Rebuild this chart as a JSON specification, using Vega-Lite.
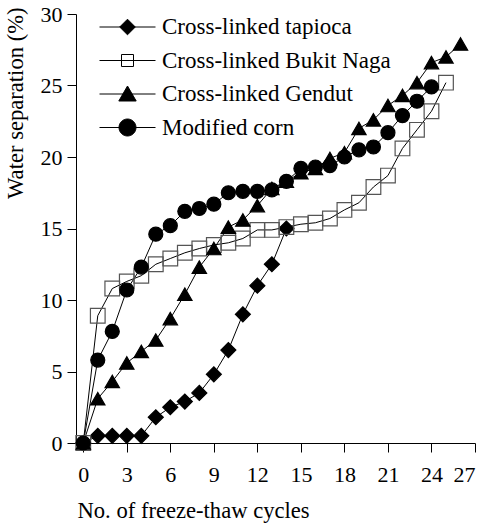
{
  "$schema": "https://vega.github.io/schema/vega-lite/v6.json",
  "width": 399,
  "height": 429,
  "autosize": {"type": "none"},
  "padding": {"left": 76, "top": 14, "right": 12, "bottom": 82},
  "background": "white",
  "config": {
    "view": {"stroke": null},
    "font": "Liberation Serif",
    "axis": {
      "grid": false,
      "domainColor": "black",
      "domainWidth": 1,
      "tickColor": "black",
      "tickWidth": 1,
      "tickSize": 9,
      "labelFont": "Liberation Serif",
      "labelFontSize": 22,
      "labelColor": "black",
      "titleFont": "Liberation Serif",
      "titleFontSize": 22.6,
      "titleFontWeight": "normal",
      "titleColor": "black"
    },
    "legend": {
      "labelFont": "Liberation Serif",
      "labelFontSize": 23,
      "labelColor": "black",
      "labelLimit": 0
    }
  },
  "data": {
    "values": [
      {"series": "Cross-linked tapioca", "cycles": 0, "sep": 0},
      {"series": "Cross-linked tapioca", "cycles": 1, "sep": 0.5},
      {"series": "Cross-linked tapioca", "cycles": 2, "sep": 0.5},
      {"series": "Cross-linked tapioca", "cycles": 3, "sep": 0.5},
      {"series": "Cross-linked tapioca", "cycles": 4, "sep": 0.5},
      {"series": "Cross-linked tapioca", "cycles": 5, "sep": 1.8},
      {"series": "Cross-linked tapioca", "cycles": 6, "sep": 2.5},
      {"series": "Cross-linked tapioca", "cycles": 7, "sep": 2.9},
      {"series": "Cross-linked tapioca", "cycles": 8, "sep": 3.5},
      {"series": "Cross-linked tapioca", "cycles": 9, "sep": 4.8},
      {"series": "Cross-linked tapioca", "cycles": 10, "sep": 6.5},
      {"series": "Cross-linked tapioca", "cycles": 11, "sep": 9.0},
      {"series": "Cross-linked tapioca", "cycles": 12, "sep": 11.0},
      {"series": "Cross-linked tapioca", "cycles": 13, "sep": 12.5},
      {"series": "Cross-linked tapioca", "cycles": 14, "sep": 15.0},
      {"series": "Cross-linked Bukit Naga", "cycles": 0, "sep": 0},
      {"series": "Cross-linked Bukit Naga", "cycles": 1, "sep": 8.9},
      {"series": "Cross-linked Bukit Naga", "cycles": 2, "sep": 10.8},
      {"series": "Cross-linked Bukit Naga", "cycles": 3, "sep": 11.3},
      {"series": "Cross-linked Bukit Naga", "cycles": 4, "sep": 11.7},
      {"series": "Cross-linked Bukit Naga", "cycles": 5, "sep": 12.5},
      {"series": "Cross-linked Bukit Naga", "cycles": 6, "sep": 12.9},
      {"series": "Cross-linked Bukit Naga", "cycles": 7, "sep": 13.3},
      {"series": "Cross-linked Bukit Naga", "cycles": 8, "sep": 13.6},
      {"series": "Cross-linked Bukit Naga", "cycles": 9, "sep": 13.85},
      {"series": "Cross-linked Bukit Naga", "cycles": 10, "sep": 14.0},
      {"series": "Cross-linked Bukit Naga", "cycles": 11, "sep": 14.3},
      {"series": "Cross-linked Bukit Naga", "cycles": 12, "sep": 14.9},
      {"series": "Cross-linked Bukit Naga", "cycles": 13, "sep": 14.9},
      {"series": "Cross-linked Bukit Naga", "cycles": 14, "sep": 15.1},
      {"series": "Cross-linked Bukit Naga", "cycles": 15, "sep": 15.3},
      {"series": "Cross-linked Bukit Naga", "cycles": 16, "sep": 15.4},
      {"series": "Cross-linked Bukit Naga", "cycles": 17, "sep": 15.7},
      {"series": "Cross-linked Bukit Naga", "cycles": 18, "sep": 16.3},
      {"series": "Cross-linked Bukit Naga", "cycles": 19, "sep": 16.8},
      {"series": "Cross-linked Bukit Naga", "cycles": 20, "sep": 17.9},
      {"series": "Cross-linked Bukit Naga", "cycles": 21, "sep": 18.7},
      {"series": "Cross-linked Bukit Naga", "cycles": 22, "sep": 20.6},
      {"series": "Cross-linked Bukit Naga", "cycles": 23, "sep": 21.9},
      {"series": "Cross-linked Bukit Naga", "cycles": 24, "sep": 23.2},
      {"series": "Cross-linked Bukit Naga", "cycles": 25, "sep": 25.2},
      {"series": "Cross-linked Gendut", "cycles": 0, "sep": 0},
      {"series": "Cross-linked Gendut", "cycles": 1, "sep": 3.1},
      {"series": "Cross-linked Gendut", "cycles": 2, "sep": 4.3},
      {"series": "Cross-linked Gendut", "cycles": 3, "sep": 5.6},
      {"series": "Cross-linked Gendut", "cycles": 4, "sep": 6.4},
      {"series": "Cross-linked Gendut", "cycles": 5, "sep": 7.2},
      {"series": "Cross-linked Gendut", "cycles": 6, "sep": 8.7},
      {"series": "Cross-linked Gendut", "cycles": 7, "sep": 10.4},
      {"series": "Cross-linked Gendut", "cycles": 8, "sep": 12.3},
      {"series": "Cross-linked Gendut", "cycles": 9, "sep": 13.6},
      {"series": "Cross-linked Gendut", "cycles": 10, "sep": 15.1},
      {"series": "Cross-linked Gendut", "cycles": 11, "sep": 15.6},
      {"series": "Cross-linked Gendut", "cycles": 12, "sep": 16.6},
      {"series": "Cross-linked Gendut", "cycles": 13, "sep": 17.8},
      {"series": "Cross-linked Gendut", "cycles": 14, "sep": 18.3},
      {"series": "Cross-linked Gendut", "cycles": 15, "sep": 18.9},
      {"series": "Cross-linked Gendut", "cycles": 16, "sep": 19.2},
      {"series": "Cross-linked Gendut", "cycles": 17, "sep": 19.9},
      {"series": "Cross-linked Gendut", "cycles": 18, "sep": 20.3},
      {"series": "Cross-linked Gendut", "cycles": 19, "sep": 22.0},
      {"series": "Cross-linked Gendut", "cycles": 20, "sep": 22.6},
      {"series": "Cross-linked Gendut", "cycles": 21, "sep": 23.6},
      {"series": "Cross-linked Gendut", "cycles": 22, "sep": 24.3},
      {"series": "Cross-linked Gendut", "cycles": 23, "sep": 25.2},
      {"series": "Cross-linked Gendut", "cycles": 24, "sep": 26.6},
      {"series": "Cross-linked Gendut", "cycles": 25, "sep": 27.0},
      {"series": "Cross-linked Gendut", "cycles": 26, "sep": 27.9},
      {"series": "Modified corn", "cycles": 0, "sep": 0},
      {"series": "Modified corn", "cycles": 1, "sep": 5.8},
      {"series": "Modified corn", "cycles": 2, "sep": 7.8},
      {"series": "Modified corn", "cycles": 3, "sep": 10.7},
      {"series": "Modified corn", "cycles": 4, "sep": 12.3},
      {"series": "Modified corn", "cycles": 5, "sep": 14.6},
      {"series": "Modified corn", "cycles": 6, "sep": 15.2},
      {"series": "Modified corn", "cycles": 7, "sep": 16.2},
      {"series": "Modified corn", "cycles": 8, "sep": 16.4},
      {"series": "Modified corn", "cycles": 9, "sep": 16.7},
      {"series": "Modified corn", "cycles": 10, "sep": 17.5},
      {"series": "Modified corn", "cycles": 11, "sep": 17.6},
      {"series": "Modified corn", "cycles": 12, "sep": 17.6},
      {"series": "Modified corn", "cycles": 13, "sep": 17.7},
      {"series": "Modified corn", "cycles": 14, "sep": 18.3},
      {"series": "Modified corn", "cycles": 15, "sep": 19.2},
      {"series": "Modified corn", "cycles": 16, "sep": 19.3},
      {"series": "Modified corn", "cycles": 17, "sep": 19.4},
      {"series": "Modified corn", "cycles": 18, "sep": 20.0},
      {"series": "Modified corn", "cycles": 19, "sep": 20.5},
      {"series": "Modified corn", "cycles": 20, "sep": 20.7},
      {"series": "Modified corn", "cycles": 21, "sep": 21.7},
      {"series": "Modified corn", "cycles": 22, "sep": 22.9},
      {"series": "Modified corn", "cycles": 23, "sep": 23.9},
      {"series": "Modified corn", "cycles": 24, "sep": 24.9}
    ]
  },
  "encoding": {
    "x": {
      "field": "cycles",
      "type": "quantitative",
      "scale": {"domain": [-0.5, 27], "nice": false, "zero": false},
      "axis": {
        "values": [0, 3, 6, 9, 12, 15, 18, 21, 24, 27],
        "labelFont": "Liberation Serif",
        "titleFont": "Liberation Serif",
        "labelPadding": 12,
        "title": "No. of freeze-thaw cycles",
        "titleAnchor": "start",
        "titleAlign": "left",
        "titleBaseline": "alphabetic",
        "titleX": 1,
        "titleY": 74
      }
    },
    "y": {
      "field": "sep",
      "type": "quantitative",
      "scale": {"domain": [0, 30], "nice": false},
      "axis": {
        "values": [0, 5, 10, 15, 20, 25, 30],
        "labelFont": "Liberation Serif",
        "titleFont": "Liberation Serif",
        "labelPadding": 5,
        "title": "Water separation (%)",
        "titleAngle": 270,
        "titleAlign": "right",
        "titleBaseline": "alphabetic",
        "titleX": -54,
        "titleY": -7
      }
    }
  },
  "layer": [
    {
      "mark": {"type": "line", "color": "black", "strokeWidth": 1},
      "encoding": {"detail": {"field": "series", "type": "nominal"}}
    },
    {
      "mark": {"type": "point", "opacity": 1, "strokeWidth": 1.2},
      "encoding": {
        "shape": {
          "field": "series", "type": "nominal", "legend": null,
          "scale": {
            "domain": ["Cross-linked tapioca", "Cross-linked Bukit Naga", "Cross-linked Gendut", "Modified corn"],
            "range": ["diamond", "square", "triangle-up", "circle"]
          }
        },
        "fill": {
          "field": "series", "type": "nominal", "legend": null,
          "scale": {
            "domain": ["Cross-linked tapioca", "Cross-linked Bukit Naga", "Cross-linked Gendut", "Modified corn"],
            "range": ["black", "transparent", "black", "black"]
          }
        },
        "stroke": {
          "field": "series", "type": "nominal", "legend": null,
          "scale": {
            "domain": ["Cross-linked tapioca", "Cross-linked Bukit Naga", "Cross-linked Gendut", "Modified corn"],
            "range": ["black", "#555555", "black", "black"]
          }
        },
        "size": {
          "field": "series", "type": "nominal", "legend": null,
          "scale": {
            "domain": ["Cross-linked tapioca", "Cross-linked Bukit Naga", "Cross-linked Gendut", "Modified corn"],
            "range": [225, 196, 300, 280]
          }
        }
      }
    },
    {
      "transform": [{"filter": "datum.cycles < -10"}],
      "mark": {"type": "point", "opacity": 1, "strokeWidth": 1},
      "encoding": {
        "shape": {
          "field": "series", "type": "nominal",
          "scale": {
            "domain": ["Cross-linked tapioca", "Cross-linked Bukit Naga", "Cross-linked Gendut", "Modified corn"],
            "range": [
              "M-2.8,0H2.8M0,-0.78L0.78,0L0,0.78L-0.78,0Z",
              "M-2.8,0H2.8M-0.6,-0.6H0.6V0.6H-0.6Z",
              "M-2.8,0H2.8M0,-0.8L0.87,0.7L-0.87,0.7Z",
              "M-2.8,0H2.8M-0.85,0A0.85,0.85,0,1,0,0.85,0A0.85,0.85,0,1,0,-0.85,0Z"
            ]
          },
          "legend": {
            "title": null,
            "orient": "none",
            "legendX": 40,
            "legendY": 1.5,
            "padding": 0,
            "symbolSize": 400,
            "symbolStrokeWidth": 1,
            "labelOffset": 23,
            "labelLimit": 0,
            "rowPadding": 9.5
          }
        },
        "fill": {
          "field": "series", "type": "nominal",
          "scale": {
            "domain": ["Cross-linked tapioca", "Cross-linked Bukit Naga", "Cross-linked Gendut", "Modified corn"],
            "range": ["black", "transparent", "black", "black"]
          }
        },
        "stroke": {
          "field": "series", "type": "nominal",
          "scale": {
            "domain": ["Cross-linked tapioca", "Cross-linked Bukit Naga", "Cross-linked Gendut", "Modified corn"],
            "range": ["black", "black", "black", "black"]
          }
        }
      }
    }
  ],
  "resolve": {"scale": {"shape": "independent", "fill": "independent", "stroke": "independent"}}
}
